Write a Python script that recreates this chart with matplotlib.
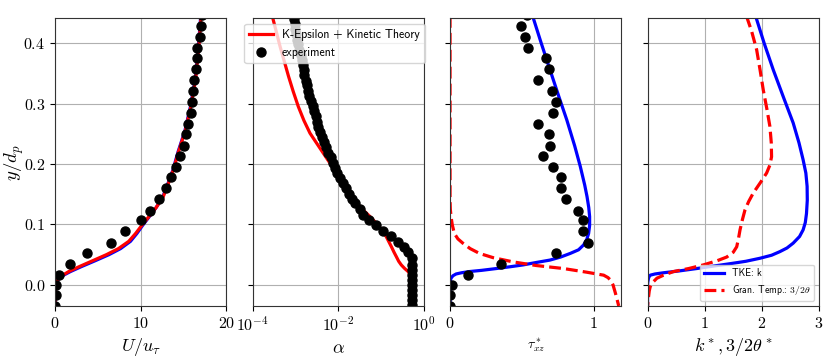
#!/usr/bin/env python3
"""Four-panel profile comparison: velocity, volume fraction, shear stress, TKE."""
import matplotlib
matplotlib.use("Agg")
import matplotlib.pyplot as plt

plt.rcParams["mathtext.fontset"] = "cm"
plt.rcParams["axes.unicode_minus"] = False

# experiment heights shared by panels 1 and 3
Y_EXP = [0.447, 0.429, 0.410, 0.392, 0.375, 0.357, 0.339, 0.321, 0.302, 0.284, 0.266,
         0.249, 0.230, 0.213, 0.195, 0.178, 0.160, 0.142, 0.123, 0.107, 0.089,
         0.070, 0.052, 0.035, 0.017, 0.000, -0.017, -0.035]
U_EXP = [17.1, 17.0, 16.9, 16.6, 16.6, 16.5, 16.2, 16.1, 16.0, 15.9, 15.5,
         15.3, 15.0, 14.6, 14.1, 13.5, 13.0, 12.1, 11.1, 10.0, 8.2,
         6.5, 3.7, 1.8, 0.5, 0.15, 0.1, 0.05]
TAU_EXP = [0.533, 0.491, 0.521, 0.545, 0.668, 0.692, 0.615, 0.708, 0.739, 0.720, 0.615,
           0.692, 0.697, 0.650, 0.720, 0.772, 0.772, 0.809, 0.888, 0.923, 0.923,
           0.958, 0.739, 0.353, 0.128, 0.011, 0.0, 0.0]

# model velocity profile
Y_U = [-0.035, -0.002, 0.004, 0.010, 0.016, 0.022, 0.030, 0.040, 0.050, 0.060,
       0.072, 0.085, 0.098, 0.112, 0.128, 0.145, 0.165, 0.190, 0.220, 0.255,
       0.295, 0.340, 0.390, 0.445]
U_RED = [0.0, 0.0, 0.15, 0.4, 0.9, 1.6, 2.8, 4.4, 6.0, 7.4,
         8.6, 9.4, 10.1, 10.9, 11.8, 12.6, 13.15, 13.8, 14.4, 15.2,
         15.85, 16.4, 16.75, 17.05]
U_BLUE = [0.0, 0.0, 0.17, 0.45, 1.0, 1.8, 3.05, 4.7, 6.3, 7.65,
          8.8, 9.55, 10.2, 10.95, 11.8, 12.55, 13.1, 13.75, 14.35, 15.15,
          15.8, 16.35, 16.7, 17.0]

# volume fraction experiment
Y_ALPHA = [0.440, 0.432, 0.423, 0.415, 0.406, 0.398, 0.389, 0.381, 0.372, 0.364,
           0.355, 0.347, 0.338, 0.330, 0.321, 0.313, 0.304, 0.296, 0.287, 0.279,
           0.270, 0.262, 0.253, 0.245, 0.236, 0.228, 0.219, 0.211, 0.202, 0.194,
           0.185, 0.177, 0.168, 0.160, 0.151, 0.142, 0.135, 0.125, 0.116, 0.107,
           0.099, 0.089, 0.081, 0.071, 0.063, 0.055, 0.044, 0.033, 0.024, 0.016,
           0.008, 0.000, -0.009, -0.017, -0.025, -0.033]
ALPHA_EXP = [9.3e-4, 9.8e-4, 1.0e-3, 1.02e-3, 1.07e-3, 1.15e-3, 1.23e-3, 1.32e-3, 1.41e-3, 1.48e-3,
             1.55e-3, 1.62e-3, 1.74e-3, 1.82e-3, 1.95e-3, 2.09e-3, 2.29e-3, 2.51e-3, 2.69e-3, 2.95e-3,
             3.16e-3, 3.39e-3, 3.72e-3, 4.17e-3, 4.68e-3, 5.25e-3, 5.89e-3, 6.61e-3, 7.41e-3, 8.32e-3,
             9.12e-3, 1.07e-2, 1.29e-2, 1.51e-2, 1.82e-2, 2.14e-2, 2.45e-2, 3.16e-2, 3.80e-2, 5.13e-2,
             7.76e-2, 0.112, 0.170, 0.251, 0.339, 0.427, 0.513, 0.525, 0.537, 0.537,
             0.537, 0.537, 0.537, 0.537, 0.537, 0.537]
Y_ALPHA_MOD = [0.445, 0.42, 0.395, 0.37, 0.345, 0.32, 0.295, 0.272, 0.251, 0.234,
               0.218, 0.20, 0.185, 0.170, 0.157, 0.145, 0.135, 0.124, 0.113, 0.104,
               0.095, 0.088, 0.081, 0.074, 0.063, 0.054, 0.046, 0.039, 0.033, 0.027,
               0.022, 0.018, 0.016, -0.035]
ALPHA_MOD = [2.88e-4, 3.55e-4, 4.37e-4, 5.5e-4, 6.92e-4, 8.9e-4, 1.17e-3, 1.58e-3, 2.19e-3, 3.16e-3,
             4.47e-3, 6.6e-3, 9.12e-3, 1.23e-2, 1.58e-2, 2.09e-2, 2.69e-2, 3.8e-2, 5.5e-2, 7.24e-2,
             9.33e-2, 0.112, 0.129, 0.145, 0.174, 0.20, 0.229, 0.257, 0.295, 0.355,
             0.427, 0.468, 0.479, 0.48]

# shear stress model
Y_TAU_B = [0.445, 0.40, 0.356, 0.31, 0.273, 0.23, 0.196, 0.165, 0.146, 0.128,
           0.113, 0.098, 0.085, 0.075, 0.066, 0.058, 0.052, 0.046, 0.041, 0.037,
           0.033, 0.030, 0.027, 0.024, 0.022, 0.020, 0.018, 0.015, 0.011, 0.007,
           0.003, -0.035]
TAU_BLUE = [0.575, 0.635, 0.696, 0.760, 0.813, 0.868, 0.907, 0.938, 0.954, 0.966,
            0.972, 0.972, 0.965, 0.952, 0.930, 0.895, 0.837, 0.77, 0.696, 0.60,
            0.509, 0.42, 0.323, 0.22, 0.135, 0.08, 0.042, 0.02, 0.007, 0.002,
            0.0, 0.0]
Y_TAU_R = [0.445, 0.140, 0.125, 0.113, 0.100, 0.085, 0.076, 0.069, 0.060, 0.052,
           0.045, 0.038, 0.032, 0.027, 0.021, 0.016, 0.012, 0.008, 0.0, -0.014,
           -0.035]
TAU_RED = [0.0, 0.0, 0.002, 0.007, 0.015, 0.030, 0.055, 0.089, 0.140, 0.205,
           0.300, 0.439, 0.60, 0.790, 0.95, 1.070, 1.10, 1.117, 1.135, 1.152,
           1.175]

# TKE and granular temperature
Y_K = [0.445, 0.40, 0.356, 0.31, 0.268, 0.235, 0.207, 0.185, 0.163, 0.14,
       0.118, 0.103, 0.091, 0.080, 0.069, 0.061, 0.055, 0.049, 0.044, 0.039,
       0.035, 0.031, 0.027, 0.023, 0.020, 0.018, 0.016, 0.013, 0.011, 0.005,
       0.0, -0.035]
K_BLUE = [1.89, 2.04, 2.199, 2.38, 2.548, 2.65, 2.722, 2.77, 2.792, 2.795,
          2.781, 2.76, 2.722, 2.66, 2.548, 2.44, 2.316, 2.17, 1.967, 1.72,
          1.443, 1.15, 0.862, 0.55, 0.279, 0.13, 0.047, 0.025, 0.017, 0.005,
          0.0, 0.0]
Y_TH = [0.445, 0.42, 0.389, 0.355, 0.323, 0.29, 0.262, 0.235, 0.212, 0.198,
        0.185, 0.170, 0.152, 0.138, 0.124, 0.108, 0.091, 0.076, 0.063, 0.054,
        0.046, 0.040, 0.033, 0.027, 0.022, 0.016, 0.011, 0.004, -0.003, -0.010,
        -0.020, -0.035]
TH_RED = [1.73, 1.82, 1.909, 1.97, 2.024, 2.09, 2.141, 2.165, 2.170, 2.14,
          2.083, 1.98, 1.850, 1.77, 1.705, 1.66, 1.618, 1.59, 1.560, 1.50,
          1.385, 1.22, 0.977, 0.72, 0.454, 0.28, 0.164, 0.09, 0.047, 0.03,
          0.017, 0.0]

Y_TICKS = [0.0, 0.1, 0.2, 0.3, 0.4]
LEG_FONT = "cmss10"
LW = 2.3
MS = 6.5


def main():
    fig, axes = plt.subplots(1, 4, figsize=(8.4, 3.6), sharey=True)
    fig.subplots_adjust(left=0.0655, right=0.975, bottom=0.15, top=0.949, wspace=0.152)
    ax1, ax2, ax3, ax4 = axes

    # velocity
    ax1.plot(U_BLUE, Y_U, color="blue", lw=LW)
    ax1.plot(U_RED, Y_U, color="red", lw=LW)
    ax1.plot(U_EXP, Y_EXP, "o", color="black", ms=MS)
    ax1.set_xlim(0, 20)
    ax1.set_xticks([0, 10, 20], ["$0$", "$10$", "$20$"])
    ax1.set_xlabel(r"$U/u_\tau$", fontsize=13)
    ax1.set_ylabel(r"$y/d_p$", fontsize=13.5)
    ax1.yaxis.set_label_coords(-0.17, 0.5)
    ax1.set_ylim(-0.035, 0.441)
    ax1.set_yticks(Y_TICKS, [f"${v:.1f}$" for v in Y_TICKS])

    # volume fraction
    ax2.plot(ALPHA_MOD, Y_ALPHA_MOD, color="red", lw=LW, label="K-Epsilon + Kinetic Theory")
    ax2.plot(ALPHA_EXP, Y_ALPHA, "o", color="black", ms=MS, label="experiment")
    ax2.set_xscale("log")
    ax2.set_xlim(1e-4, 1)
    ax2.set_xticks([1e-4, 1e-2, 1], ["$10^{-4}$", "$10^{-2}$", "$10^{0}$"])
    ax2.minorticks_off()
    ax2.set_xlabel(r"$\alpha$", fontsize=13)
    ax2.legend(loc="upper left", bbox_to_anchor=(-0.048, 0.98), borderaxespad=0,
               prop={"family": LEG_FONT, "size": 8.5}, handlelength=2.0)

    # shear stress
    ax3.plot(TAU_BLUE, Y_TAU_B, color="blue", lw=LW)
    ax3.plot(TAU_RED, Y_TAU_R, color="red", lw=LW, ls="--")
    ax3.plot(TAU_EXP, Y_EXP, "o", color="black", ms=MS)
    ax3.set_xlim(0, 1.194)
    ax3.set_xticks([0, 1], ["$0$", "$1$"])
    ax3.set_xlabel(r"$\tau^*_{xz}$", fontsize=10)

    # TKE
    ax4.plot(K_BLUE, Y_K, color="blue", lw=LW, label="TKE: k")
    ax4.plot(TH_RED, Y_TH, color="red", lw=LW, ls="--", label=r"Gran. Temp.: $3/2\theta$")
    ax4.set_xlim(0, 3)
    ax4.set_xticks([0, 1, 2, 3], ["$0$", "$1$", "$2$", "$3$"])
    ax4.set_xlabel(r"$k^*, 3/2\theta^*$", fontsize=13)
    ax4.legend(loc="lower right", prop={"family": LEG_FONT, "size": 7})

    for ax in axes:
        ax.grid(True, color="#b0b0b0", lw=0.8)
        ax.tick_params(labelsize=11.5)
        for s in ax.spines.values():
            s.set_color("#333333")

    fig.savefig("out.png", dpi=100)


if __name__ == "__main__":
    main()
